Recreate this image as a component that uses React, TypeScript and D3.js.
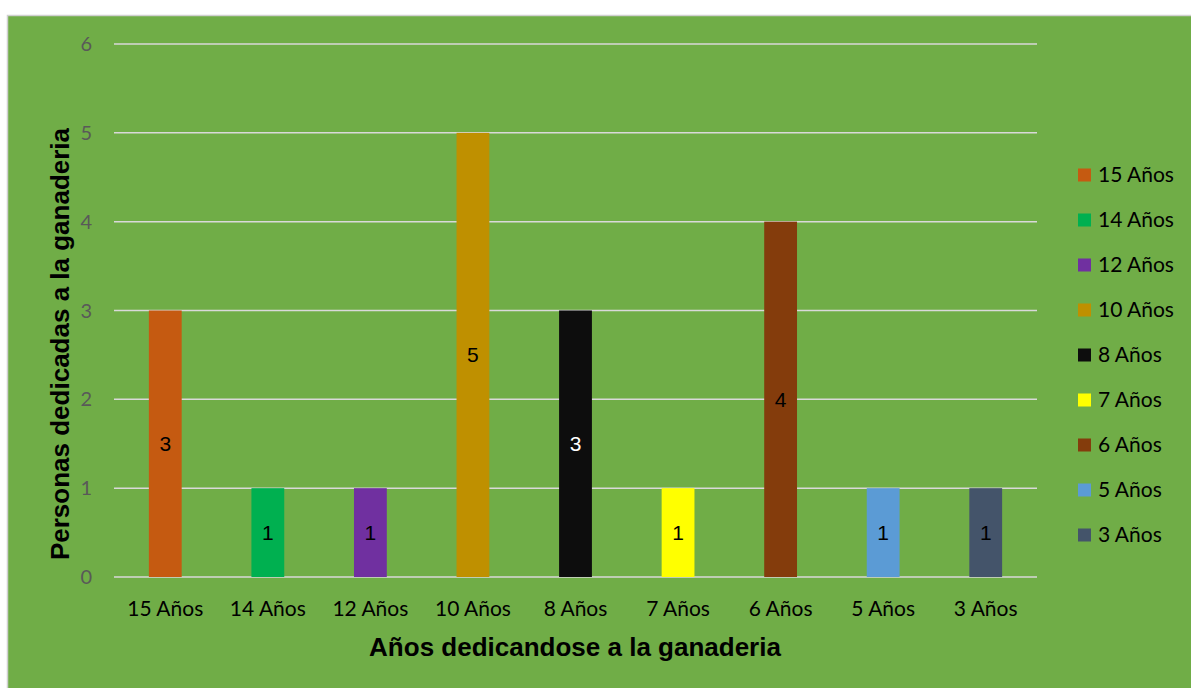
import React, { useEffect, useRef } from "react";
import * as d3 from "d3";

const categories = ["15 Años", "14 Años", "12 Años", "10 Años", "8 Años", "7 Años", "6 Años", "5 Años", "3 Años"];
const values = [3, 1, 1, 5, 3, 1, 4, 1, 1];
const colors = ["#C55A11", "#00B050", "#7030A0", "#BF9000", "#0D0D0D", "#FFFF00", "#843C0C", "#5B9BD5", "#44546A"];
const labelColors = ["#000", "#000", "#000", "#000", "#fff", "#000", "#000", "#000", "#000"];
const yTicks = [0, 1, 2, 3, 4, 5, 6];

const W = 1191;
const H = 688;

export default function App() {
  const ref = useRef<SVGSVGElement>(null);

  useEffect(() => {
    const svg = d3.select(ref.current);
    svg.selectAll("*").remove();

    // chart frame
    svg
      .append("rect")
      .attr("x", 7.5)
      .attr("y", 15.5)
      .attr("width", W)
      .attr("height", H)
      .attr("fill", "#70AD47")
      .attr("stroke", "#D0D0D0")
      .attr("stroke-width", 1.5);

    const x = d3.scaleBand().domain(categories).range([114, 1037]).paddingInner(0.68).paddingOuter(0.34);
    const y = d3.scaleLinear().domain([0, 6]).range([577, 44]);

    // gridlines
    svg
      .append("g")
      .selectAll("line")
      .data(yTicks)
      .join("line")
      .attr("x1", 114)
      .attr("x2", 1037)
      .attr("y1", (d) => y(d))
      .attr("y2", (d) => y(d))
      .attr("stroke", "#D9D9D9")
      .attr("stroke-width", 1.5);

    // y tick labels
    svg
      .append("g")
      .selectAll("text")
      .data(yTicks)
      .join("text")
      .attr("x", 92)
      .attr("y", (d) => y(d))
      .attr("dy", "0.35em")
      .attr("text-anchor", "end")
      .attr("fill", "#595959")
      .style("font-family", "Lato, 'Open Sans', sans-serif")
      .style("font-size", "20px")
      .text((d) => d);

    // bars
    svg
      .append("g")
      .selectAll("rect")
      .data(values)
      .join("rect")
      .attr("x", (d, i) => x(categories[i]) as number)
      .attr("y", (d) => y(d))
      .attr("width", x.bandwidth())
      .attr("height", (d) => y(0) - y(d))
      .attr("fill", (d, i) => colors[i]);

    // bar value labels
    svg
      .append("g")
      .selectAll("text")
      .data(values)
      .join("text")
      .attr("x", (d, i) => (x(categories[i]) as number) + x.bandwidth() / 2)
      .attr("y", (d) => y(d / 2))
      .attr("dy", "0.35em")
      .attr("text-anchor", "middle")
      .attr("fill", (d, i) => labelColors[i])
      .style("font-family", "Arial, 'Liberation Sans', sans-serif")
      .style("font-size", "21px")
      .text((d) => d);

    // x tick labels
    svg
      .append("g")
      .selectAll("text")
      .data(categories)
      .join("text")
      .attr("x", (d) => (x(d) as number) + x.bandwidth() / 2)
      .attr("y", 609)
      .attr("dy", "0.35em")
      .attr("text-anchor", "middle")
      .attr("fill", "#000")
      .style("font-family", "Lato, 'Open Sans', sans-serif")
      .style("font-size", "21px")
      .text((d) => d);

    // axis titles
    svg
      .append("text")
      .attr("x", 575)
      .attr("y", 647)
      .attr("dy", "0.35em")
      .attr("text-anchor", "middle")
      .style("font-family", "Arial, 'Liberation Sans', sans-serif")
      .style("font-size", "26px")
      .style("font-weight", "bold")
      .text("Años dedicandose a la ganaderia");

    svg
      .append("text")
      .attr("transform", "translate(60,344) rotate(-90)")
      .attr("dy", "0.35em")
      .attr("text-anchor", "middle")
      .style("font-family", "Arial, 'Liberation Sans', sans-serif")
      .style("font-size", "26px")
      .style("font-weight", "bold")
      .text("Personas dedicadas a la ganaderia");

    // legend
    const legend = svg
      .append("g")
      .selectAll("g")
      .data(categories)
      .join("g")
      .attr("transform", (d, i) => `translate(1078, ${175 + i * 45})`);

    legend
      .append("rect")
      .attr("x", 0)
      .attr("y", -6.5)
      .attr("width", 13)
      .attr("height", 13)
      .attr("fill", (d, i) => colors[i]);

    legend
      .append("text")
      .attr("x", 20)
      .attr("y", 0)
      .attr("dy", "0.35em")
      .attr("fill", "#000")
      .style("font-family", "Lato, 'Open Sans', sans-serif")
      .style("font-size", "21px")
      .text((d) => d);
  }, []);

  return (
    <svg
      ref={ref}
      width={W}
      height={H}
      style={{ position: "absolute", left: 0, top: 0, background: "#fff" }}
    ></svg>
  );
}
